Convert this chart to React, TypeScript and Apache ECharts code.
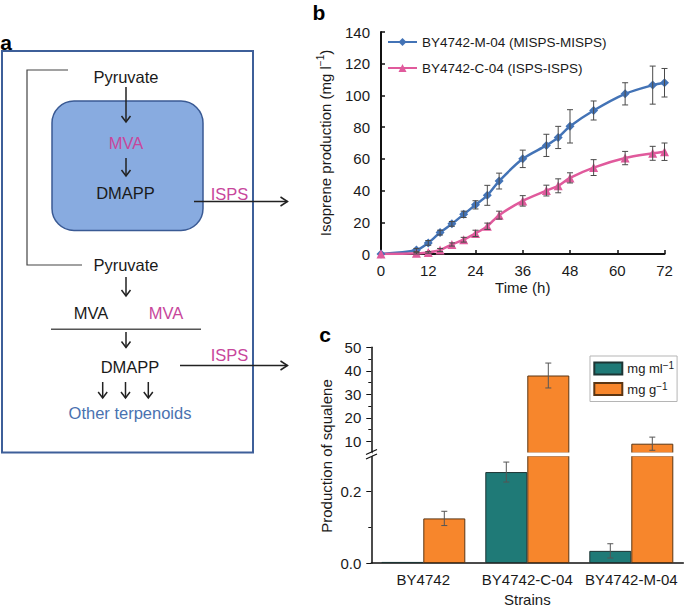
import React, { useEffect, useRef } from 'react';
import * as echarts from 'echarts';

// ---- Panel b data: isoprene production over time ----
const times = [0, 9, 12, 15, 18, 21, 24, 27, 30, 36, 42, 45, 48, 54, 62, 69, 72];
const mispsValues = [0, 2.5, 7, 13.5, 19, 25, 31, 37, 46, 60, 68.5, 73.5, 80.5, 90.5, 101, 106.5, 108];
const mispsErr = [0, 1, 1.5, 1.5, 1.5, 2, 2.6, 6.3, 5, 5.5, 7, 7, 10.5, 6, 7, 12, 9];
const ispsValues = [0, 0.5, 1, 2.5, 6, 9, 13, 17.5, 24.5, 33.5, 40, 43, 48, 54.5, 60.5, 63.5, 64.5];
const ispsErr = [0, 0.5, 0.5, 1, 1, 1.5, 2, 2, 2.5, 3.3, 3.4, 4.4, 3.2, 5, 4.2, 4.4, 5.5];
const seriesNames = ['BY4742-M-04 (MISPS-MISPS)', 'BY4742-C-04 (ISPS-ISPS)'];

// ---- Panel c data: squalene production ----
const strains = ['BY4742', 'BY4742-C-04', 'BY4742-M-04'];
const squaleneMl = [0.003, 0.255, 0.034];
const squaleneMlErr = [0, 0.028, 0.02];
const squaleneG = [0.125, 38, 9];
const squaleneGErr = [0.02, 5.3, 2.8];
const upperTickLabels = [10, 20, 30, 40, 50];
const upperMinorTicks = [15, 25, 35, 45];
const lowerTickLabels = [0, 0.2];
const lowerMinorTicks = [0.1];

const UPPER_MIN = 5;
const UPPER_MAX = 50;
const LOWER_MAX = 0.3;
const BAR_W = 42;

const FONT = '"Liberation Sans", Arial, Helvetica, sans-serif';
const BLUE = '#4373b6';
const PINK = '#e05a9c';
const TEAL = '#1f7a77';
const ORANGE = '#f7862c';
const MAG = '#c8469b';
const INK = '#1a1a1a';

function txt(text: string, x: number, y: number, fill = INK, size = 16.5, weight = 'normal') {
  return {
    type: 'text', x, y, z: 10, z2: 10,
    style: {
      text, fill, fontSize: size, fontFamily: FONT, fontWeight: weight,
      align: 'center', verticalAlign: 'middle', textAlign: 'center', textVerticalAlign: 'middle',
    },
  };
}
function ln(x1: number, y1: number, x2: number, y2: number, stroke = '#222', w = 1.5) {
  return { type: 'line', z: 10, z2: 5, shape: { x1, y1, x2, y2 }, style: { stroke, lineWidth: w } };
}
function vArrow(x: number, y1: number, y2: number) {
  return [
    ln(x, y1, x, y2),
    { type: 'polyline', z: 10, z2: 5, shape: { points: [[x - 4.5, y2 - 6], [x, y2], [x + 4.5, y2 - 6]] }, style: { stroke: '#222', lineWidth: 1.5, fill: 'none' } },
  ];
}
function hArrow(x1: number, x2: number, y: number) {
  return [
    ln(x1, y, x2, y),
    { type: 'polyline', z: 10, z2: 5, shape: { points: [[x2 - 7, y - 4.5], [x2, y], [x2 - 7, y + 4.5]] }, style: { stroke: '#222', lineWidth: 1.5, fill: 'none' } },
  ];
}

function timeErrorRender(params: any, api: any) {
  const x = api.value(0), v = api.value(1), e = api.value(2);
  if (!e) return null;
  const p1 = api.coord([x, v + e]);
  const p2 = api.coord([x, Math.max(0, v - e)]);
  const st = { stroke: '#4a4a4a', lineWidth: 1 };
  return {
    type: 'group',
    children: [
      { type: 'line', shape: { x1: p1[0], y1: p1[1], x2: p2[0], y2: p2[1] }, style: st },
      { type: 'line', shape: { x1: p1[0] - 3, y1: p1[1], x2: p1[0] + 3, y2: p1[1] }, style: st },
      { type: 'line', shape: { x1: p2[0] - 3, y1: p2[1], x2: p2[0] + 3, y2: p2[1] }, style: st },
    ],
  };
}
function barErrorRender(params: any, api: any) {
  const ci = api.value(0), v = api.value(1), e = api.value(2), side = api.value(3);
  const p1 = api.coord([ci, v + e]);
  const p2 = api.coord([ci, v - e]);
  const x = p1[0] + side * (BAR_W / 2);
  const st = { stroke: '#555', lineWidth: 1 };
  return {
    type: 'group',
    children: [
      { type: 'line', shape: { x1: x, y1: p1[1], x2: x, y2: p2[1] }, style: st },
      { type: 'line', shape: { x1: x - 3, y1: p1[1], x2: x + 3, y2: p1[1] }, style: st },
      { type: 'line', shape: { x1: x - 3, y1: p2[1], x2: x + 3, y2: p2[1] }, style: st },
    ],
  };
}

export default function App() {
  const ref = useRef<HTMLDivElement>(null);
  useEffect(() => {
    if (!ref.current) return;
    const chart = echarts.init(ref.current, null, { renderer: 'svg' });

    const lowerErr: any[] = [];
    const upperErr: any[] = [];
    strains.forEach((_, i) => {
      const pairs: [number, number, number][] = [[squaleneMl[i], squaleneMlErr[i], -1], [squaleneG[i], squaleneGErr[i], 1]];
      pairs.forEach(([v, e, side]) => {
        if (!e) return;
        if (v <= LOWER_MAX) lowerErr.push([i, v, e, side]);
        else if (v >= UPPER_MIN) upperErr.push([i, v, e, side]);
      });
    });

    const axisLineB = { lineStyle: { color: '#111', width: 2 } };
    const axisLineC = { lineStyle: { color: '#111', width: 1.5 } };
    const labelStyle = { fontSize: 15, color: INK, fontFamily: FONT };
    const supRich = { sup: { fontSize: 10, verticalAlign: 'top', lineHeight: 10, fontFamily: FONT, color: INK } };

    const graphic: any[] = [
      // panel labels
      { ...txt('a', 6, 42, '#000', 21, 'bold') },
      { ...txt('b', 319, 12, '#000', 21, 'bold') },
      { ...txt('c', 325, 334, '#000', 21, 'bold') },
      // panel a outer frame
      { type: 'rect', z: 10, z2: 0, shape: { x: 2, y: 51, width: 251, height: 401.5 }, style: { fill: 'none', stroke: '#3e5f99', lineWidth: 2 } },
      // bracket
      { type: 'polyline', z: 10, z2: 5, shape: { points: [[68, 70], [27, 70], [27, 265], [82, 265]] }, style: { stroke: '#444', lineWidth: 1.2, fill: 'none' } },
      // compartment
      { type: 'rect', z: 10, z2: 1, shape: { x: 52, y: 101, width: 151, height: 129.5, r: 22 }, style: { fill: '#88abe0', stroke: '#3a5a94', lineWidth: 1.5 } },
      txt('Pyruvate', 126, 77),
      ...vArrow(126, 87, 122),
      txt('MVA', 126, 142.5, MAG),
      ...vArrow(126, 158, 176),
      txt('DMAPP', 125.5, 192.5),
      ...hArrow(194, 287.5, 201.5),
      txt('ISPS', 229.5, 193.5, MAG),
      txt('Pyruvate', 126, 265),
      ...vArrow(126, 277, 296),
      txt('MVA', 91, 313), txt('MVA', 166, 313, MAG),
      ln(51, 329.3, 201, 329.3, '#555', 1.5),
      ...vArrow(126, 332, 347.5),
      txt('DMAPP', 130, 367),
      ...hArrow(180, 287.5, 365.5),
      txt('ISPS', 229.5, 355, MAG),
      ...vArrow(102.7, 382, 398),
      ...vArrow(125.5, 382, 398),
      ...vArrow(148.3, 382, 398),
      txt('Other terpenoids', 130, 413, '#4a72b0'),
      // panel c y-axis title
      {
        type: 'text', x: 326, y: 456, rotation: Math.PI / 2, z: 10,
        style: { text: 'Production of squalene', fill: INK, fontSize: 15, fontFamily: FONT, align: 'center', verticalAlign: 'middle', textAlign: 'center', textVerticalAlign: 'middle' },
      },
      // white gap across the broken bars
      { type: 'rect', z: 10, z2: 0, shape: { x: 372.6, y: 452.6, width: 312, height: 3.6 }, style: { fill: '#fff' } },
      // axis break mark
      { type: 'rect', z: 10, z2: 0, shape: { x: 365, y: 452.5, width: 7, height: 4 }, style: { fill: '#fff' } },
      ln(366, 454.5, 377, 449.5, '#111', 1.3),
      ln(366, 459, 377, 454, '#111', 1.3),
    ];

    const option: any = {
      animation: false,
      backgroundColor: '#fff',
      textStyle: { fontFamily: FONT },
      graphic,
      grid: [
        { left: 381, top: 32, width: 283.5, height: 222 },
        { left: 371.3, top: 347.3, width: 312, height: 105.8 },
        { left: 371.3, top: 456, width: 312, height: 107 },
      ],
      legend: [
        {
          data: seriesNames, orient: 'vertical', left: 387, top: 35, itemWidth: 29, itemHeight: 10, itemGap: 12,
          padding: 0, textStyle: { fontSize: 13.5, color: INK, fontFamily: FONT }, selectedMode: false,
        },
        {
          data: ['mg ml-1', 'mg g-1'], orient: 'vertical', left: 590, top: 356, icon: 'rect',
          itemWidth: 28, itemHeight: 12, itemGap: 4.5, padding: [4.5, 3, 4.5, 3.3],
          borderColor: '#b5b5b5', borderWidth: 1, selectedMode: false,
          formatter: (n: string) => n.replace('-1', '{sup|−1}'),
          textStyle: { fontSize: 13, lineHeight: 16, color: INK, fontFamily: FONT, rich: supRich },
        },
      ],
      xAxis: [
        {
          type: 'value', gridIndex: 0, min: 0, max: 72, interval: 12,
          axisLine: axisLineB, axisTick: { inside: true, length: 4, lineStyle: { color: '#111', width: 1.5 } },
          axisLabel: { ...labelStyle, margin: 9 }, splitLine: { show: false },
          name: 'Time (h)', nameLocation: 'middle', nameGap: 26, nameTextStyle: { ...labelStyle },
        },
        { type: 'category', gridIndex: 1, data: strains, show: false },
        {
          type: 'category', gridIndex: 2, data: strains,
          axisLine: axisLineC, axisTick: { alignWithLabel: true, interval: 0, length: 4, lineStyle: { color: '#111' } },
          axisLabel: { ...labelStyle, margin: 9, interval: 0, hideOverlap: false },
          name: 'Strains', nameLocation: 'middle', nameGap: 29, nameTextStyle: { ...labelStyle },
        },
      ],
      yAxis: [
        {
          type: 'value', gridIndex: 0, min: 0, max: 140, interval: 20,
          axisLine: { show: true, ...axisLineB }, axisTick: { show: true, inside: true, length: 4, lineStyle: { color: '#111', width: 1.5 } },
          axisLabel: { ...labelStyle, margin: 11 }, splitLine: { show: false },
          name: 'Isoprene production (mg l{sup|−1})', nameLocation: 'middle', nameGap: 46,
          nameTextStyle: { ...labelStyle, lineHeight: 20, rich: supRich },
        },
        {
          type: 'value', gridIndex: 1, min: UPPER_MIN, max: UPPER_MAX, position: 'left',
          axisLine: { show: true, ...axisLineC },
          axisTick: { show: true, length: 5, customValues: upperTickLabels, lineStyle: { color: '#111' } },
          axisLabel: { ...labelStyle, margin: 10, customValues: upperTickLabels }, splitLine: { show: false },
        },
        {
          type: 'value', gridIndex: 2, min: 0, max: LOWER_MAX, position: 'left',
          axisLine: { show: true, ...axisLineC },
          axisTick: { show: true, length: 5, customValues: lowerTickLabels, lineStyle: { color: '#111' } },
          axisLabel: { ...labelStyle, margin: 10, customValues: lowerTickLabels, formatter: (v: number) => v.toFixed(1) },
          splitLine: { show: false },
        },
        {
          type: 'value', gridIndex: 1, min: UPPER_MIN, max: UPPER_MAX, position: 'left',
          axisLine: { show: false }, axisLabel: { show: false }, splitLine: { show: false },
          axisTick: { show: true, length: 3, customValues: upperMinorTicks, lineStyle: { color: '#111' } },
        },
        {
          type: 'value', gridIndex: 2, min: 0, max: LOWER_MAX, position: 'left',
          axisLine: { show: false }, axisLabel: { show: false }, splitLine: { show: false },
          axisTick: { show: true, length: 3, customValues: lowerMinorTicks, lineStyle: { color: '#111' } },
        },
      ],
      series: [
        {
          type: 'line', name: seriesNames[0], xAxisIndex: 0, yAxisIndex: 0, smooth: 0.3,
          data: times.map((t, i) => [t, mispsValues[i]]),
          symbol: 'diamond', symbolSize: 9, itemStyle: { color: BLUE }, lineStyle: { color: BLUE, width: 2.5 }, z: 3,
        },
        {
          type: 'line', name: seriesNames[1], xAxisIndex: 0, yAxisIndex: 0, smooth: 0.3,
          data: times.map((t, i) => [t, ispsValues[i]]),
          symbol: 'triangle', symbolSize: 9, itemStyle: { color: PINK }, lineStyle: { color: PINK, width: 2.5 }, z: 3,
        },
        {
          type: 'custom', xAxisIndex: 0, yAxisIndex: 0, renderItem: timeErrorRender, z: 4,
          encode: { x: 0, y: 1 }, data: times.map((t, i) => [t, mispsValues[i], mispsErr[i]]),
        },
        {
          type: 'custom', xAxisIndex: 0, yAxisIndex: 0, renderItem: timeErrorRender, z: 4,
          encode: { x: 0, y: 1 }, data: times.map((t, i) => [t, ispsValues[i], ispsErr[i]]),
        },
        {
          type: 'bar', name: 'mg ml-1', xAxisIndex: 2, yAxisIndex: 2, barWidth: BAR_W, barGap: '0%', clip: true,
          data: squaleneMl, itemStyle: { color: TEAL, borderColor: '#1d3534', borderWidth: 1 },
        },
        {
          type: 'bar', name: 'mg g-1', xAxisIndex: 2, yAxisIndex: 2, barWidth: BAR_W, barGap: '0%', clip: true,
          data: squaleneG, itemStyle: { color: ORANGE, borderColor: '#5b3512', borderWidth: 1 },
        },
        {
          type: 'bar', name: 'mg ml-1', xAxisIndex: 1, yAxisIndex: 1, barWidth: BAR_W, barGap: '0%', clip: true,
          data: squaleneMl.map(v => (v > UPPER_MIN ? v : null)), itemStyle: { color: TEAL, borderColor: '#1d3534', borderWidth: 1 },
        },
        {
          type: 'bar', name: 'mg g-1', xAxisIndex: 1, yAxisIndex: 1, barWidth: BAR_W, barGap: '0%', clip: true,
          data: squaleneG.map(v => (v > UPPER_MIN ? v : null)), itemStyle: { color: ORANGE, borderColor: '#5b3512', borderWidth: 1 },
        },
        {
          type: 'custom', xAxisIndex: 2, yAxisIndex: 2, renderItem: barErrorRender, z: 5,
          encode: { x: 0, y: 1 }, data: lowerErr,
        },
        {
          type: 'custom', xAxisIndex: 1, yAxisIndex: 1, renderItem: barErrorRender, z: 5,
          encode: { x: 0, y: 1 }, data: upperErr,
        },
      ],
    };
    chart.setOption(option);
    return () => chart.dispose();
  }, []);
  return <div ref={ref} style={{ position: 'absolute', left: 0, top: 0, width: 685, height: 611, background: '#fff' }} />;
}
